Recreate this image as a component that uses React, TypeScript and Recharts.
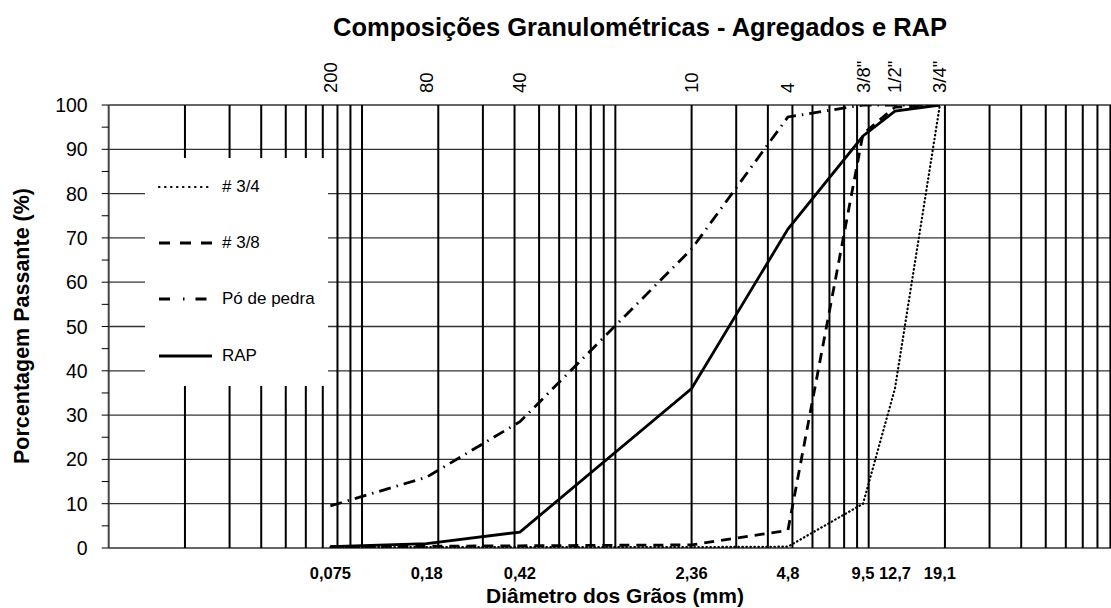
import React from "react";
import { LineChart, Line, XAxis, YAxis, ReferenceLine } from "recharts";

// abertura das peneiras (mm) e rótulos
const sieveSizes = [0.075, 0.18, 0.42, 2.0, 4.8, 9.5, 12.7, 19.1];
const sieveNumbers = ["200", "80", "40", "10", "4", '3/8"', '1/2"', '3/4"'];
const sizeLabels = ["0,075", "0,18", "0,42", "2,36", "4,8", "9,5", "12,7", "19,1"];

// % passante
const brita34 = [0.2, 0.2, 0.2, 0.2, 0.3, 10, 36, 100];
const brita38 = [0.3, 0.4, 0.5, 0.7, 4, 93.5, 99.5, 100];
const poDePedra = [9.5, 16, 28.5, 67.5, 97.3, 100, 100, 100];
const rap = [0.3, 1, 3.6, 36, 72, 93, 98.6, 100];

const yTicks = [0, 5, 10, 15, 20, 25, 30, 35, 40, 45, 50, 55, 60, 65, 70, 75, 80, 85, 90, 95, 100];
const yGrid = [0, 10, 20, 30, 40, 50, 60, 70, 80, 90, 100];
const xGrid = [
  0.02, 0.03, 0.04, 0.05, 0.06, 0.07, 0.08, 0.09, 0.1,
  0.2, 0.3, 0.4, 0.5, 0.6, 0.7, 0.8, 0.9, 1,
  2, 3, 4, 5, 6, 7, 8, 9, 10,
  20, 30, 40, 50, 60, 70, 80, 90,
];

const series = [
  { key: "brita34", name: "# 3/4", dash: "0.5 3.5", legendDash: "0.5 5.5", width: 2.2 },
  { key: "brita38", name: "# 3/8", dash: "10 7", legendDash: "11 10", width: 2.8 },
  { key: "poDePedra", name: "Pó de pedra", dash: "12 6 1.5 6", legendDash: "11 13 1.5 11", width: 2.8 },
  { key: "rap", name: "RAP", dash: undefined, legendDash: undefined, width: 2.8 },
];

const data = sieveSizes.map((d, i) => ({
  d,
  brita34: brita34[i],
  brita38: brita38[i],
  poDePedra: poDePedra[i],
  rap: rap[i],
}));

const FONT = '"Liberation Sans", Arial, Helvetica, sans-serif';

const BottomTick = ({ x, y, payload }: any) => {
  const i = sieveSizes.indexOf(payload.value);
  return (
    <text x={x} y={y} textAnchor="middle" dominantBaseline="central" fontFamily={FONT} fontSize={16.5} fontWeight="bold" fill="#000">
      {sizeLabels[i]}
    </text>
  );
};

const TopTick = ({ x, y, payload }: any) => {
  const i = sieveSizes.indexOf(payload.value);
  return (
    <text x={x} y={y} transform={`rotate(-90, ${x}, ${y})`} textAnchor="start" dominantBaseline="central" fontFamily={FONT} fontSize={18.5} fill="#000">
      {sieveNumbers[i]}
    </text>
  );
};

const LeftTick = ({ x, y, payload }: any) => {
  if (payload.value % 10 !== 0) return <g />;
  return (
    <text x={x} y={y} textAnchor="end" dominantBaseline="central" fontFamily={FONT} fontSize={19.5} fill="#000">
      {payload.value}
    </text>
  );
};

export default function App() {
  return (
    <div style={{ position: "absolute", left: 0, top: 0, width: 1111, height: 608, overflow: "hidden", background: "#fff", fontFamily: FONT }}>
      <LineChart width={1126} height={608} data={data} margin={{ top: 0, right: 4, bottom: 0, left: 0 }}>
        <XAxis
          xAxisId="bottom"
          dataKey="d"
          type="number"
          scale="log"
          domain={[0.01, 100]}
          allowDataOverflow
          ticks={sieveSizes}
          interval={0}
          height={60}
          tickSize={0}
          tickMargin={25}
          tickLine={false}
          axisLine={false}
          tick={<BottomTick />}
        />
        <XAxis
          xAxisId="top"
          orientation="top"
          dataKey="d"
          type="number"
          scale="log"
          domain={[0.01, 100]}
          allowDataOverflow
          ticks={sieveSizes}
          interval={0}
          height={105}
          tickSize={0}
          tickMargin={12}
          tickLine={false}
          axisLine={false}
          tick={<TopTick />}
        />
        <YAxis
          type="number"
          domain={[0, 100]}
          allowDataOverflow
          ticks={yTicks}
          interval={0}
          width={108.7}
          tickSize={7}
          tickMargin={14}
          tickLine={{ stroke: "#000", strokeWidth: 1 }}
          axisLine={{ stroke: "#444", strokeWidth: 2 }}
          tick={<LeftTick />}
        />
        {yGrid.map((v) => (
          <ReferenceLine key={`h${v}`} xAxisId="bottom" y={v} stroke="#333" strokeWidth={1.3} />
        ))}
        {xGrid.map((v) => (
          <ReferenceLine key={`v${v}`} xAxisId="bottom" x={v} stroke="#000" strokeWidth={2} />
        ))}
        {series.map((s) => (
          <Line
            key={s.key}
            xAxisId="bottom"
            type="linear"
            dataKey={s.key}
            name={s.name}
            stroke="#000"
            strokeWidth={s.width}
            strokeDasharray={s.dash}
            strokeLinecap={s.key === "brita34" ? "round" : "butt"}
            dot={false}
            activeDot={false}
            isAnimationActive={false}
          />
        ))}
      </LineChart>

      {/* legenda */}
      <div style={{ position: "absolute", left: 145, top: 158, width: 183, height: 228, background: "#fff" }}>
        {series.map((s, i) => (
          <div key={s.key} style={{ position: "absolute", left: 0, top: 28.7 + i * 56.3 - 12, height: 24, width: 183 }}>
            <svg width={70} height={24} style={{ position: "absolute", left: 0, top: 0 }}>
              <line x1={14} y1={12} x2={67} y2={12} stroke="#000" strokeWidth={s.width} strokeDasharray={s.legendDash} strokeLinecap={s.key === "brita34" ? "round" : "butt"} />
            </svg>
            <span style={{ position: "absolute", left: 77, top: 1, fontSize: 17, lineHeight: "22px", whiteSpace: "nowrap", color: "#000" }}>{s.name}</span>
          </div>
        ))}
      </div>

      {/* títulos */}
      <div style={{ position: "absolute", left: 640, top: 27, transform: "translate(-50%, -50%)", fontSize: 25.5, fontWeight: "bold", whiteSpace: "nowrap", color: "#000" }}>
        Composições Granulométricas - Agregados e RAP
      </div>
      <div style={{ position: "absolute", left: 615, top: 596, transform: "translate(-50%, -50%)", fontSize: 21, fontWeight: "bold", whiteSpace: "nowrap", color: "#000" }}>
        Diâmetro dos Grãos (mm)
      </div>
      <div style={{ position: "absolute", left: 22, top: 326, transform: "translate(-50%, -50%) rotate(-90deg)", fontSize: 21.5, fontWeight: "bold", whiteSpace: "nowrap", color: "#000" }}>
        Porcentagem Passante (%)
      </div>
    </div>
  );
}
